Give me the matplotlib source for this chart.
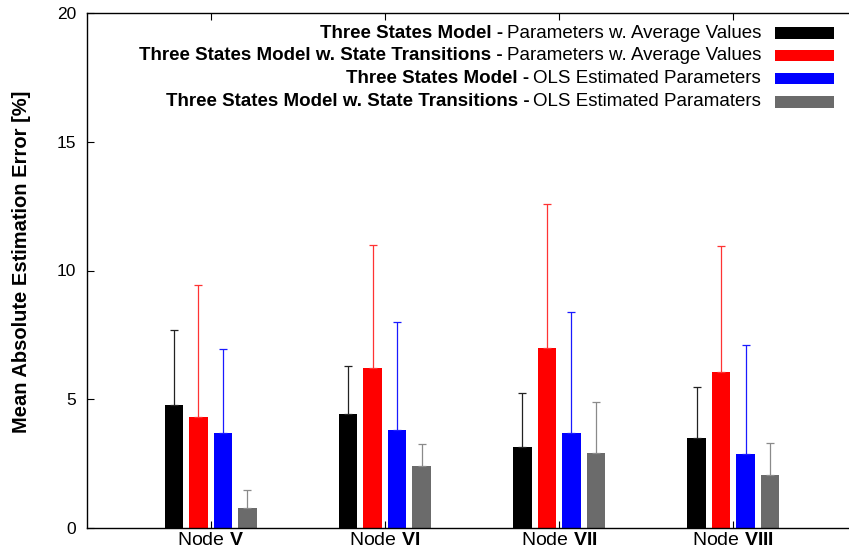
import matplotlib
matplotlib.use("Agg")
import matplotlib.pyplot as plt
import numpy as np
from matplotlib.patches import Rectangle

plt.rcParams['font.family'] = ['Liberation Sans', 'DejaVu Sans']
plt.rcParams['mathtext.fontset'] = 'custom'
plt.rcParams['mathtext.rm'] = 'Liberation Sans'
plt.rcParams['mathtext.bf'] = 'Liberation Sans:bold'

# data
nodes = ['V', 'VI', 'VII', 'VIII']
series_bold = ['Three States Model -',
               'Three States Model w. State Transitions -',
               'Three States Model -',
               'Three States Model w. State Transitions -']
series_rest = ['Parameters w. Average Values',
               'Parameters w. Average Values',
               'OLS Estimated Parameters',
               'OLS Estimated Paramaters']
colors = ['#000000', '#ff0000', '#0000ff', '#6b6b6b']
err_colors = ['#222222', '#ff3333', '#1a1aff', '#8a8a8a']

avg_3s = [4.77, 4.41, 3.15, 3.50]
avg_3st = [4.31, 6.20, 6.98, 6.04]
ols_3s = [3.67, 3.82, 3.70, 2.89]
ols_3st = [0.79, 2.39, 2.92, 2.06]

err_avg_3s = [2.90, 1.88, 2.10, 1.97]
err_avg_3st = [5.11, 4.80, 5.62, 4.92]
err_ols_3s = [3.28, 4.18, 4.69, 4.22]
err_ols_3st = [0.69, 0.87, 1.99, 1.26]

means = [avg_3s, avg_3st, ols_3s, ols_3st]
errs = [err_avg_3s, err_avg_3st, err_ols_3s, err_ols_3st]

W, H = 849, 560
fig = plt.figure(figsize=(W / 100, H / 100), dpi=100)
ax = fig.add_axes([87 / W, 32 / H, (857 - 87) / W, 515 / H])

x = np.arange(len(nodes))
bw = 0.106
step = 0.1406
for i in range(4):
    xi = x + (i - 1.5) * step
    ax.bar(xi, means[i], width=bw, color=colors[i], edgecolor='none', zorder=2)
    ax.errorbar(xi, means[i], yerr=[np.zeros(len(nodes)), errs[i]], fmt='none',
                ecolor=err_colors[i], elinewidth=0.9, capsize=3, capthick=0.9, zorder=3)

ax.set_xlim(-0.71, 3.71)
ax.set_ylim(0, 20)
ax.set_yticks([0, 5, 10, 15, 20])
ax.set_xticks(x)
ax.set_xticklabels(['Node $\\mathbf{%s}$' % n for n in nodes], fontsize=14)
ax.tick_params(axis='y', labelsize=12.5, pad=8)
ax.tick_params(direction='in', length=5, width=0.8, top=True, right=False)
ax.tick_params(axis='x', pad=3)
for s in ax.spines.values():
    s.set_linewidth(1.0)
ax.spines['right'].set_visible(False)

ax.set_ylabel('Mean Absolute Estimation Error [%]', fontsize=14.5, fontweight='bold')
ax.yaxis.set_label_coords(-0.073, 0.516)

# legend drawn by hand: text right aligned, swatch on the right
renderer = fig.canvas.get_renderer()
text_right = 761
row_y = [33, 56, 79, 102]
for i in range(4):
    yf = 1 - row_y[i] / H
    t = fig.text(text_right / W, yf, series_rest[i], ha='right', va='center', fontsize=13.5)
    bb = t.get_window_extent(renderer)
    fig.text((bb.x0 - 4) / W, yf, series_bold[i], ha='right', va='center',
             fontsize=13.5, fontweight='bold')
    fig.patches.append(Rectangle((775 / W, yf - 5.5 / H), 59 / W, 11 / H,
                                 transform=fig.transFigure, facecolor=colors[i],
                                 edgecolor='none'))

fig.savefig('out.png', dpi=100)
